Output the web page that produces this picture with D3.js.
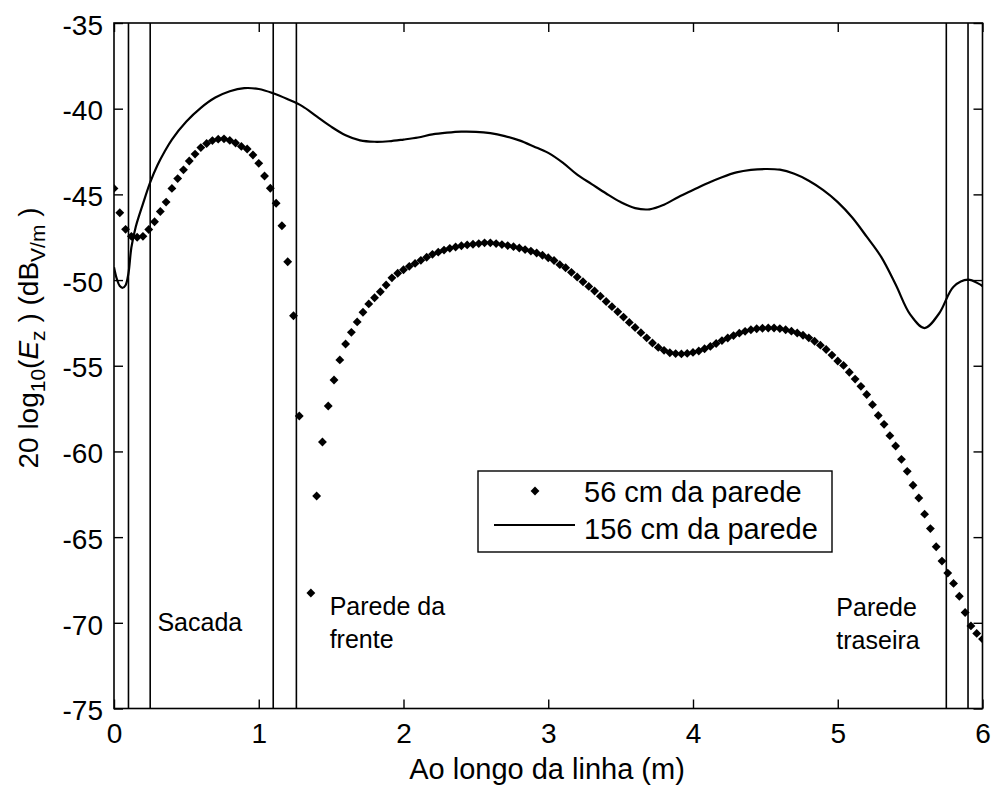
<!DOCTYPE html>
<html>
<head>
<meta charset="utf-8">
<script src="https://cdn.jsdelivr.net/npm/d3@7"></script>
<style>
  html, body { margin: 0; padding: 0; background: #fff; }
  svg { display: block; }
  text { font-family: "Liberation Sans", Arial, sans-serif; fill: #000; }
</style>
</head>
<body>
<svg id="chart" width="991" height="788"></svg>
<script>
// Field level along the measurement line, sampled every 4 cm (56 cm from the wall)
const xStep56 = 0.04;
const level56 = [
  -44.65, -46.07, -47.04, -47.45, -47.50, -47.45, -47.05, -46.60, -46.00, -45.45,
  -44.65, -44.08, -43.57, -43.05, -42.65, -42.27, -42.03, -41.86, -41.78, -41.76,
  -41.85, -42.00, -42.20, -42.35, -42.70, -43.19, -43.93, -44.64, -45.52, -46.83,
  -48.93, -52.08, -57.93, -78.00, -68.26, -62.60, -59.45, -57.35, -55.83, -54.66,
  -53.73, -53.05, -52.44, -51.88, -51.39, -51.03, -50.68, -50.29, -49.87, -49.60,
  -49.40, -49.20, -49.03, -48.85, -48.67, -48.50, -48.37, -48.25, -48.15, -48.07,
  -48.00, -47.95, -47.91, -47.87, -47.83, -47.83, -47.87, -47.93, -47.99, -48.05,
  -48.13, -48.22, -48.31, -48.42, -48.55, -48.70, -48.86, -49.10, -49.28, -49.55,
  -49.82, -50.10, -50.37, -50.64, -50.94, -51.25, -51.55, -51.85, -52.16, -52.47,
  -52.77, -53.07, -53.37, -53.67, -53.93, -54.10, -54.24, -54.29, -54.31, -54.28,
  -54.22, -54.14, -54.01, -53.87, -53.70, -53.53, -53.38, -53.24, -53.10, -52.99,
  -52.90, -52.84, -52.81, -52.80, -52.80, -52.83, -52.90, -52.98, -53.09, -53.22,
  -53.37, -53.57, -53.80, -54.05, -54.38, -54.72, -54.98, -55.38, -55.78, -56.20,
  -56.68, -57.27, -57.90, -58.42, -59.08, -59.68, -60.46, -61.16, -61.97, -62.72,
  -63.66, -64.50, -65.56, -66.40, -67.10, -67.70, -68.45, -69.40, -70.18, -70.62,
  -70.95
];

// Field level 156 cm from the wall
const pos156 = [
  0, 0.02, 0.04, 0.06, 0.08, 0.10, 0.12, 0.15, 0.20, 0.25, 0.30, 0.35,
  0.4, 0.5, 0.6, 0.7, 0.8, 0.9, 1.0, 1.1, 1.2, 1.3, 1.4, 1.5, 1.6, 1.7, 1.8, 1.9,
  2.0, 2.1, 2.2, 2.3, 2.4, 2.5, 2.6, 2.7, 2.8, 2.9, 3.0, 3.1, 3.2, 3.3, 3.4, 3.5,
  3.6, 3.7, 3.8, 3.9, 4.0, 4.1, 4.2, 4.3, 4.4, 4.5, 4.6, 4.7, 4.8, 4.9, 5.0, 5.1,
  5.2, 5.3, 5.4, 5.5, 5.6, 5.7, 5.8, 5.9, 6.0
];
const level156 = [
  -49.25, -49.95, -50.35, -50.45, -50.30, -49.60, -48.10, -46.90, -45.55, -44.30, -43.30, -42.50,
  -41.80, -40.75, -39.95, -39.35, -38.98, -38.80, -38.85, -39.10, -39.45, -39.85, -40.45, -41.05, -41.55, -41.85, -41.93, -41.90,
  -41.80, -41.68, -41.50, -41.40, -41.34, -41.35, -41.43, -41.60, -41.85, -42.20, -42.58, -43.15, -43.85, -44.40, -44.95, -45.45,
  -45.80, -45.87, -45.60, -45.15, -44.75, -44.35, -44.00, -43.72, -43.57, -43.52, -43.56, -43.80, -44.20, -44.75, -45.45, -46.35,
  -47.47, -48.65, -50.26, -52.00, -52.80, -51.95, -50.39, -49.98, -50.35
];

// Wall faces along the line (m)
const walls = [0.1, 0.25, 1.1, 1.26, 5.75, 5.9];

const xTicks = [0, 1, 2, 3, 4, 5, 6];
const yTicks = [-75, -70, -65, -60, -55, -50, -45, -40, -35];

const seriesNames = ["56 cm da parede", "156 cm da parede"];

// Region labels: x in metres, baseline in dB
const regionLabels = [
  { lines: ["Sacada"], x: 0.3, y: -70.5 },
  { lines: ["Parede da", "frente"], x: 1.49, y: -69.55 },
  { lines: ["Parede", "traseira"], x: 4.99, y: -69.63 }
];

const svg = d3.select("#chart");
const m = { left: 114, right: 982.5, top: 23, bottom: 708.5 };

const x = d3.scaleLinear().domain([0, 6]).range([m.left, m.right]);
const y = d3.scaleLinear().domain([-75, -35]).range([m.bottom, m.top]);
const axisFont = 28;
const labelFont = 25;
const fmt = d => String(d);

svg.append("defs").append("clipPath").attr("id", "plotclip")
  .append("rect").attr("x", m.left).attr("y", m.top)
  .attr("width", m.right - m.left).attr("height", m.bottom - m.top);

const plot = svg.append("g").attr("clip-path", "url(#plotclip)");

// wall lines
plot.selectAll("line.wall").data(walls).enter().append("line")
  .attr("class", "wall")
  .attr("x1", d => x(d)).attr("x2", d => x(d))
  .attr("y1", m.top).attr("y2", m.bottom)
  .attr("stroke", "#000").attr("stroke-width", 1.6);

// solid curve
const line = d3.line()
  .x(d => x(d[0])).y(d => y(d[1]))
  .curve(d3.curveCatmullRom.alpha(0.5));
plot.append("path")
  .datum(pos156.map((p, i) => [p, level156[i]]))
  .attr("d", line)
  .attr("fill", "none").attr("stroke", "#000").attr("stroke-width", 2.2);

// diamond markers
const diamond = d3.symbol().type(d3.symbolDiamond2).size(50);
plot.selectAll("path.pt").data(level56).enter().append("path")
  .attr("class", "pt")
  .attr("d", diamond)
  .attr("transform", (d, i) => `translate(${x(i * xStep56)},${y(d)})`)
  .attr("fill", "#000");

// axes: ticks drawn inward on all four sides
const tickLen = 9;
const axB = svg.append("g").attr("transform", `translate(0,${m.bottom})`)
  .call(d3.axisBottom(x).tickValues(xTicks).tickSizeInner(-tickLen).tickSizeOuter(0).tickFormat(fmt));
axB.selectAll("text").attr("y", 34).attr("dy", null);
const axT = svg.append("g").attr("transform", `translate(0,${m.top})`)
  .call(d3.axisTop(x).tickValues(xTicks).tickSizeInner(-tickLen).tickSizeOuter(0).tickFormat(""));
const axL = svg.append("g").attr("transform", `translate(${m.left},0)`)
  .call(d3.axisLeft(y).tickValues(yTicks).tickSizeInner(-tickLen).tickSizeOuter(0).tickPadding(11).tickFormat(fmt));
axL.selectAll("text").attr("dy", "0.4em");
const axR = svg.append("g").attr("transform", `translate(${m.right},0)`)
  .call(d3.axisRight(y).tickValues(yTicks).tickSizeInner(-tickLen).tickSizeOuter(0).tickFormat(""));
[axB, axT, axL, axR].forEach(g => {
  g.select(".domain").remove();
  g.selectAll(".tick line").attr("stroke", "#000").attr("stroke-width", 1.4);
  g.selectAll("text").attr("font-size", axisFont).attr("font-family", null).attr("fill", "#000");
});

svg.append("rect").attr("x", m.left).attr("y", m.top)
  .attr("width", m.right - m.left).attr("height", m.bottom - m.top)
  .attr("fill", "none").attr("stroke", "#000").attr("stroke-width", 1.6);

// region labels
regionLabels.forEach(r => {
  const t = svg.append("text").attr("font-size", labelFont)
    .attr("x", x(r.x)).attr("y", y(r.y));
  r.lines.forEach((s, i) => {
    t.append("tspan").attr("x", x(r.x)).attr("dy", i === 0 ? 0 : 33).text(s);
  });
});

// axis titles
svg.append("text").attr("font-size", 29)
  .attr("x", 547).attr("y", 779).attr("text-anchor", "middle")
  .text("Ao longo da linha (m)");

const yl = svg.append("text").attr("font-size", 28)
  .attr("text-anchor", "middle")
  .attr("transform", "translate(38,338) rotate(-90)");
yl.append("tspan").text("20 log");
yl.append("tspan").attr("font-size", 21).attr("dy", 7).text("10");
yl.append("tspan").attr("dy", -7).text("(");
yl.append("tspan").attr("font-style", "italic").text("E");
yl.append("tspan").attr("font-size", 21).attr("dy", 7).text("z");
yl.append("tspan").attr("dy", -7).text(" ) (dB");
yl.append("tspan").attr("font-size", 21).attr("dy", 7).text("V/m");
yl.append("tspan").attr("dy", -7).text(" )");

// legend
const lg = svg.append("g");
lg.append("rect").attr("x", 478).attr("y", 471).attr("width", 354).attr("height", 81)
  .attr("fill", "#fff").attr("stroke", "#000").attr("stroke-width", 1.4);
lg.append("path").attr("d", diamond).attr("transform", "translate(535,491)").attr("fill", "#000");
lg.append("line").attr("x1", 494).attr("x2", 575).attr("y1", 525).attr("y2", 525)
  .attr("stroke", "#000").attr("stroke-width", 2.2);
seriesNames.forEach((s, i) => {
  lg.append("text").attr("font-size", 29).attr("x", 584).attr("y", 502 + i * 37).text(s);
});
</script>
</body>
</html>
